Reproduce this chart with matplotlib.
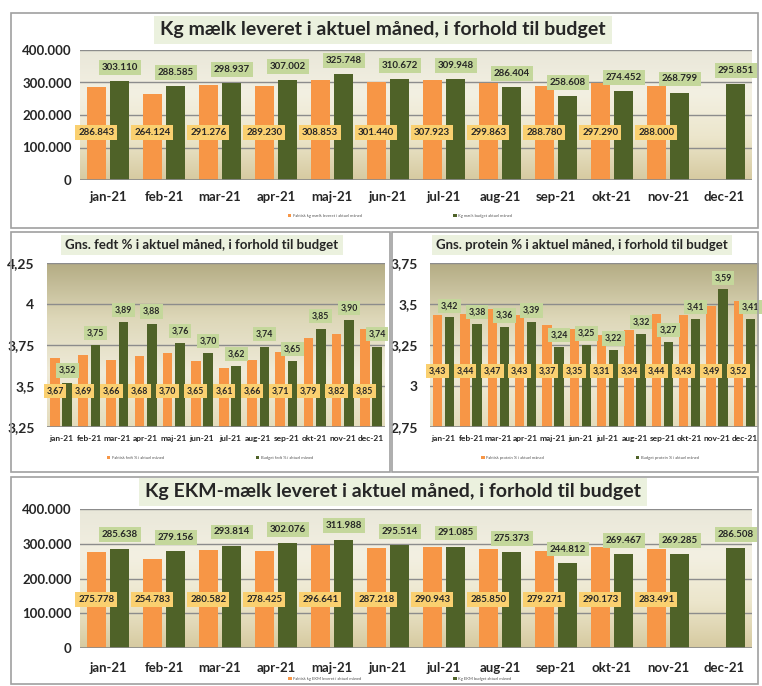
import numpy as np
import matplotlib
matplotlib.use('Agg')
import matplotlib.pyplot as plt
from matplotlib.colors import LinearSegmentedColormap
from matplotlib.patches import Rectangle, Patch

plt.rcParams['font.family'] = ['Lato', 'DejaVu Sans']

# data
months = ['jan-21', 'feb-21', 'mar-21', 'apr-21', 'maj-21', 'jun-21',
          'jul-21', 'aug-21', 'sep-21', 'okt-21', 'nov-21', 'dec-21']

kg_actual = [286843, 264124, 291276, 289230, 308853, 301440,
             307923, 299863, 288780, 297290, 288000, np.nan]
kg_budget = [303110, 288585, 298937, 307002, 325748, 310672,
             309948, 286404, 258608, 274452, 268799, 295851]

fedt_actual = [3.67, 3.69, 3.66, 3.68, 3.70, 3.65, 3.61, 3.66, 3.71, 3.79, 3.82, 3.85]
fedt_budget = [3.52, 3.75, 3.89, 3.88, 3.76, 3.70, 3.62, 3.74, 3.65, 3.85, 3.90, 3.74]

protein_actual = [3.43, 3.44, 3.47, 3.43, 3.37, 3.35, 3.31, 3.34, 3.44, 3.43, 3.49, 3.52]
protein_budget = [3.42, 3.38, 3.36, 3.39, 3.24, 3.25, 3.22, 3.32, 3.27, 3.41, 3.59, 3.41]

ekm_actual = [275778, 254783, 280582, 278425, 296641, 287218,
              290943, 285850, 279271, 290173, 283491, np.nan]
ekm_budget = [285638, 279156, 293814, 302076, 311988, 295514,
              291085, 275373, 244812, 269467, 269285, 286508]

ORANGE = '#f79646'
GREEN = '#4f6228'
ORANGE_BOX = '#fad070'
GREEN_BOX = '#c4d79b'
TITLE_BOX = '#ebf1de'
TEXT = '#262626'

W, H = 762, 686
fig = plt.figure(figsize=(W / 100, H / 100), dpi=100)


def rect(l, t, r, b):
    return [l / W, 1 - b / H, (r - l) / W, (b - t) / H]


def fmt_kg(v):
    return f'{v:,.0f}'.replace(',', '.')


def fmt_pct(v):
    return f'{v:.2f}'.replace('.', ',')


def fmt_tick(v):
    return f'{v:g}'.replace('.', ',')


def frame(l, t, r, b):
    fig.add_artist(Rectangle((l / W, 1 - b / H), (r - l) / W, (b - t) / H,
                             transform=fig.transFigure, fill=False,
                             ec='#a0a0a0', lw=1.2))


def gradient(ax, colors):
    cmap = LinearSegmentedColormap.from_list('bg', colors)
    grad = np.linspace(0, 1, 256).reshape(-1, 1)
    ax.imshow(grad, cmap=cmap, aspect='auto', origin='lower',
              extent=[0, 1, 0, 1], transform=ax.transAxes, zorder=0)


def panel(box, actual, budget, ylim, yticks, tickfmt, labfmt,
          lab_y, lab_off, width, off, bg, fs_tick, fs_lab, fs_x,
          xpad, ypad, title, title_xy, title_fs, legend_names, legend_xy):
    ax = fig.add_axes(rect(*box))
    gradient(ax, bg)
    x = np.arange(len(months))
    ax.bar(x - off, actual, width, color=ORANGE, zorder=2)
    ax.bar(x + off, budget, width, color=GREEN, zorder=2)
    for i in range(len(months)):
        if not np.isnan(actual[i]):
            ax.text(x[i] - off, lab_y, labfmt(actual[i]), ha='center', va='center',
                    fontsize=fs_lab, fontweight='bold', color=TEXT, zorder=4,
                    bbox=dict(boxstyle='square,pad=0.3', fc=ORANGE_BOX, ec='none'))
        ax.text(x[i] + off, budget[i] + lab_off, labfmt(budget[i]), ha='center',
                va='center', fontsize=fs_lab, fontweight='bold', color=TEXT, zorder=4,
                bbox=dict(boxstyle='square,pad=0.3', fc=GREEN_BOX, ec='none'))
    ax.set_xlim(-0.5, len(months) - 0.5)
    ax.set_ylim(*ylim)
    ax.set_yticks(yticks)
    ax.set_yticklabels([tickfmt(v) for v in yticks])
    ax.set_xticks(x)
    ax.set_xticklabels(months)
    ax.tick_params(axis='both', length=0, colors=TEXT)
    ax.tick_params(axis='x', labelsize=fs_x, pad=xpad)
    ax.tick_params(axis='y', labelsize=fs_tick, pad=ypad)
    for lab in ax.get_xticklabels() + ax.get_yticklabels():
        lab.set_fontweight('bold')
    ax.grid(axis='y', color='#8c8c8c', lw=1.0, zorder=1)
    ax.set_axisbelow(True)
    for s in ax.spines.values():
        s.set_visible(False)
    ax.axhline(ylim[0], color='#8c8c8c', lw=1.2, zorder=3)

    fig.text(title_xy[0] / W, 1 - title_xy[1] / H, title, ha='center', va='center',
             fontsize=title_fs, fontweight='bold', color=TEXT,
             bbox=dict(boxstyle='square,pad=0.3', fc=TITLE_BOX, ec='none'))

    handles = [Patch(fc=ORANGE), Patch(fc=GREEN)]
    fig.legend(handles, legend_names, loc='center',
               bbox_to_anchor=(legend_xy[0] / W, 1 - legend_xy[1] / H),
               ncol=2, fontsize=3, frameon=False, columnspacing=22,
               handlelength=0.8, handleheight=0.8, handletextpad=0.4,
               labelcolor='#555555')
    return ax


kg_bg = ['#d6caa0', '#ece6cc', '#f3f0e2', '#e9e7d9']
pct_bg = ['#e4dcbc', '#efebd9', '#ddd7b8', '#b4ac84']

# frames
frame(11, 13, 758, 228)
frame(11, 232, 390, 472)
frame(392, 232, 758, 472)
frame(11, 477, 758, 684)

panel((80, 50, 752, 180), kg_actual, kg_budget, (0, 400000),
      [0, 100000, 200000, 300000, 400000], fmt_kg, fmt_kg,
      145000, 42000, 0.34, 0.21, kg_bg, 9.5, 7, 9.5, 8, 6,
      'Kg mælk leveret i aktuel måned, i forhold til budget', (383, 30), 14,
      ['Faktisk kg mælk leveret i aktuel måned', 'Kg mælk budget aktuel måned'],
      (400, 216))

panel((47, 263, 385, 427), fedt_actual, fedt_budget, (3.25, 4.25),
      [3.25, 3.5, 3.75, 4, 4.25], fmt_tick, fmt_pct,
      3.47, 0.075, 0.34, 0.22, pct_bg, 10, 6.3, 6, 6, 9,
      'Gns. fedt % i aktuel måned, i forhold til budget', (202, 245), 9.5,
      ['Faktisk fedt % i aktuel måned', 'Budget fedt % i aktuel måned'],
      (210, 458))

panel((430, 263, 758, 427), protein_actual, protein_budget, (2.75, 3.75),
      [2.75, 3, 3.25, 3.5, 3.75], fmt_tick, fmt_pct,
      3.09, 0.07, 0.34, 0.22, pct_bg, 10, 6.3, 6, 6, 9,
      'Gns. protein % i aktuel måned, i forhold til budget', (582, 245), 9.5,
      ['Faktisk protein % i aktuel måned', 'Budget protein % i aktuel måned'],
      (590, 458))

panel((80, 509, 752, 648), ekm_actual, ekm_budget, (0, 400000),
      [0, 100000, 200000, 300000, 400000], fmt_kg, fmt_kg,
      140000, 40000, 0.34, 0.21, kg_bg, 9.5, 7, 9.5, 10, 6,
      'Kg EKM-mælk leveret i aktuel måned, i forhold til budget', (393, 492), 14,
      ['Faktisk kg EKM leveret i aktuel måned', 'Kg EKM budget aktuel måned'],
      (400, 679))

fig.savefig('out.png', dpi=100)
